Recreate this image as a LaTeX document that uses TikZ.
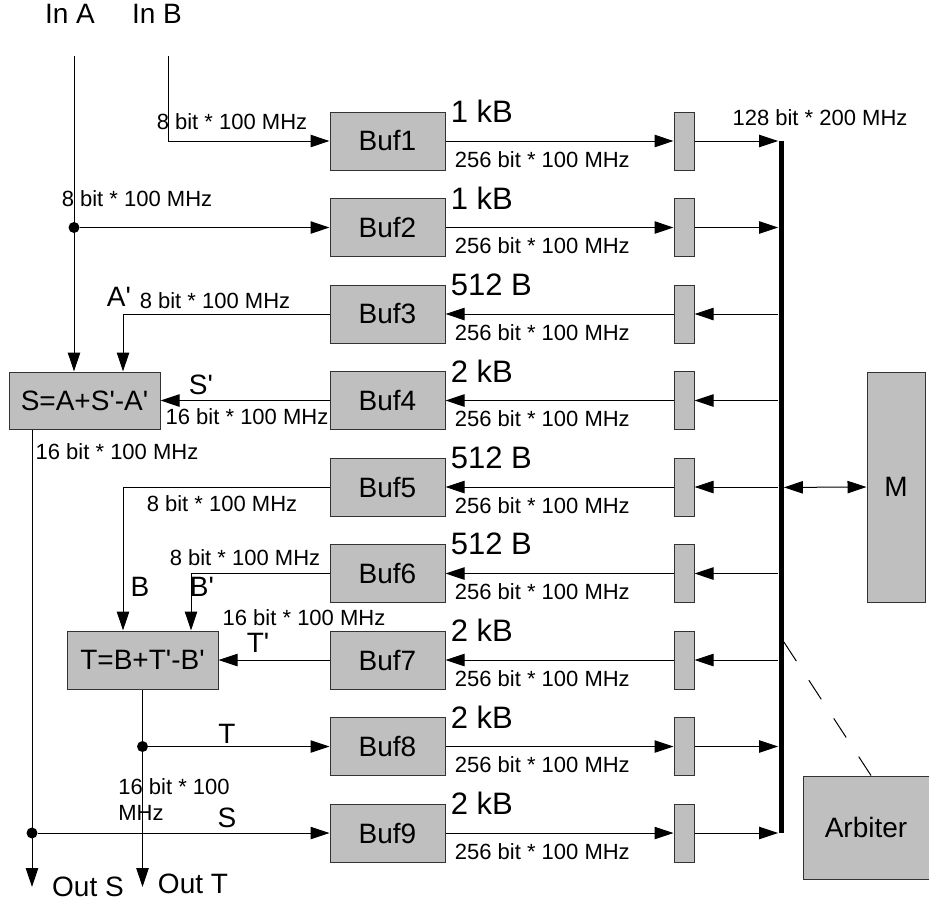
\documentclass[tikz,border=0pt]{standalone}
\usepackage{fontspec}
\setmainfont{Liberation Sans}[Ligatures=TeXOff]
\usetikzlibrary{positioning,arrows.meta}

\begin{document}
\begin{tikzpicture}[x=0.5pt, y=-0.5pt,
  box/.style={draw=black!80, fill=black!25, line width=0.5pt, inner sep=0pt, font=\fontsize{14}{16}\selectfont},
  buf/.style={box, minimum width=57.5pt, minimum height=29pt},
  reg/.style={box, minimum width=10pt, minimum height=29pt},
  conn/.style={line width=0.5pt, -{Triangle[length=9.5pt, width=6.2pt]}},
  bothconn/.style={line width=0.5pt, {Triangle[length=9.5pt, width=6.2pt]}-{Triangle[length=9.5pt, width=6.2pt]}},
  rate/.style={inner sep=0pt, font=\fontsize{11}{13}\selectfont},
  sig/.style={inner sep=0pt, font=\fontsize{14}{16}\selectfont},
  size/.style={inner sep=0pt, anchor=west, xshift=2.5pt, font=\fontsize{15.5}{18}\selectfont},
  width/.style={rate, anchor=north west, xshift=4.5pt, yshift=-5pt},
  dot/.style={circle, fill=black, inner sep=0pt, minimum size=5.5pt}]
  \useasboundingbox (0,0) rectangle (929,904);

  \node[buf] (Buf1) at (387.5,141) {Buf1};
  \node[buf, below=13.75pt of Buf1] (Buf2) {Buf2};
  \node[buf, below=13.75pt of Buf2] (Buf3) {Buf3};
  \node[buf, below=13.75pt of Buf3] (Buf4) {Buf4};
  \node[buf, below=13.75pt of Buf4] (Buf5) {Buf5};
  \node[buf, below=13.75pt of Buf5] (Buf6) {Buf6};
  \node[buf, below=13.75pt of Buf6] (Buf7) {Buf7};
  \node[buf, below=13.75pt of Buf7] (Buf8) {Buf8};
  \node[buf, below=13.75pt of Buf8] (Buf9) {Buf9};

  \node[reg, right=114pt of Buf1] (R1) {};
  \node[reg, right=114pt of Buf2] (R2) {};
  \node[reg, right=114pt of Buf3] (R3) {};
  \node[reg, right=114pt of Buf4] (R4) {};
  \node[reg, right=114pt of Buf5] (R5) {};
  \node[reg, right=114pt of Buf6] (R6) {};
  \node[reg, right=114pt of Buf7] (R7) {};
  \node[reg, right=114pt of Buf8] (R8) {};
  \node[reg, right=114pt of Buf9] (R9) {};

  \node[fill=black, inner sep=0pt, minimum width=2.5pt, minimum height=346pt, anchor=north] (bus) at (R1 -| 781,0) {};
  \node[box, minimum width=29pt, minimum height=115pt, right=86pt of R5] (M) {M};
  \node[box, minimum width=63pt, minimum height=51.5pt] (Arb) at (866,827.5) {Arbiter};

  \node[box, minimum width=75.5pt, minimum height=28.5pt, left=84.5pt of Buf4] (S) {S=A+S'-A'};
  \node[box, minimum width=75.5pt, minimum height=29pt, left=55.5pt of Buf7] (T) {T=B+T'-B'};

  \node[size] at (Buf1.north east) {1 kB};
  \node[size] at (Buf2.north east) {1 kB};
  \node[size] at (Buf3.north east) {512 B};
  \node[size] at (Buf4.north east) {2 kB};
  \node[size] at (Buf5.north east) {512 B};
  \node[size] at (Buf6.north east) {512 B};
  \node[size] at (Buf7.north east) {2 kB};
  \node[size] at (Buf8.north east) {2 kB};
  \node[size] at (Buf9.north east) {2 kB};

  \node[width] at (Buf1.east) {256 bit * 100 MHz};
  \node[width] at (Buf2.east) {256 bit * 100 MHz};
  \node[width] at (Buf3.east) {256 bit * 100 MHz};
  \node[width] at (Buf4.east) {256 bit * 100 MHz};
  \node[width] at (Buf5.east) {256 bit * 100 MHz};
  \node[width] at (Buf6.east) {256 bit * 100 MHz};
  \node[width] at (Buf7.east) {256 bit * 100 MHz};
  \node[width] at (Buf8.east) {256 bit * 100 MHz};
  \node[width] at (Buf9.east) {256 bit * 100 MHz};

  \node[sig] (InA) at (70,14) {In A};
  \node[sig] (InB) at (157,14) {In B};
  \coordinate (inA) at (74,56);
  \coordinate (inB) at (168,56);
  \coordinate (outS) at (32,887);

  \draw[conn] (inB) |- (Buf1.west);
  \draw[conn] (inA) -- (inA |- S.north);
  \node[dot] (dA) at (inA |- Buf2.west) {};
  \draw[conn] (dA) -- (Buf2.west);
  \draw[conn] (Buf3.west) -| ([xshift=19.25pt]S.north);
  \draw[conn] (Buf4.west) -- (S.east);
  \draw[conn] (outS |- S.south) -- (outS);
  \node[dot] (dS) at (outS |- Buf9.west) {};
  \draw[conn] (dS) -- (Buf9.west);
  \draw[conn] (Buf5.west) -| ([xshift=-9.75pt]T.north);
  \draw[conn] (Buf6.west) -| ([xshift=24.25pt]T.north);
  \draw[conn] (Buf7.west) -- (T.east);
  \draw[conn] (T.south) -- (T.south |- outS);
  \node[dot] (dT) at (T.south |- Buf8.west) {};
  \draw[conn] (dT) -- (Buf8.west);

  \draw[conn] (Buf1) -- (R1);
  \draw[conn] (Buf2) -- (R2);
  \draw[conn] (R3) -- (Buf3);
  \draw[conn] (R4) -- (Buf4);
  \draw[conn] (R5) -- (Buf5);
  \draw[conn] (R6) -- (Buf6);
  \draw[conn] (R7) -- (Buf7);
  \draw[conn] (Buf8) -- (R8);
  \draw[conn] (Buf9) -- (R9);

  \draw[conn] (R1) -- (R1 -| bus.west);
  \draw[conn] (R2) -- (R2 -| bus.west);
  \draw[conn] (R3 -| bus.west) -- (R3);
  \draw[conn] (R4 -| bus.west) -- (R4);
  \draw[conn] (R5 -| bus.west) -- (R5);
  \draw[conn] (R6 -| bus.west) -- (R6);
  \draw[conn] (R7 -| bus.west) -- (R7);
  \draw[conn] (R8) -- (R8 -| bus.west);
  \draw[conn] (R9) -- (R9 -| bus.west);
  \draw[bothconn] (bus.east) -- (M.west);
  \draw[line width=0.5pt, dash pattern=on 11.4pt off 11.4pt] (bus.east |- 0,642) -- ([xshift=2.5pt]Arb.north);

  \node[rate] at (820,118) {128 bit * 200 MHz};
  \node[rate] at (232,122) {8 bit * 100 MHz};
  \node[rate] at (137,199) {8 bit * 100 MHz};
  \node[sig] at (119,297) {A'};
  \node[rate] at (215,301) {8 bit * 100 MHz};
  \node[sig] at (201,385) {S'};
  \node[rate] at (247,417) {16 bit * 100 MHz};
  \node[rate] at (117,452) {16 bit * 100 MHz};
  \node[rate] at (222,504) {8 bit * 100 MHz};
  \node[rate] at (245,558) {8 bit * 100 MHz};
  \node[sig] at (140,587) {B};
  \node[sig] at (202,587) {B'};
  \node[rate] at (304,618) {16 bit * 100 MHz};
  \node[sig] at (258,643) {T'};
  \node[sig] at (227,734) {T};
  \node[rate, anchor=west, align=left] at (118,800) {16 bit * 100\\MHz};
  \node[sig] at (227,818) {S};
  \node[sig] at (88,887) {Out S};
  \node[sig] at (193,884) {Out T};
\end{tikzpicture}
\end{document}
